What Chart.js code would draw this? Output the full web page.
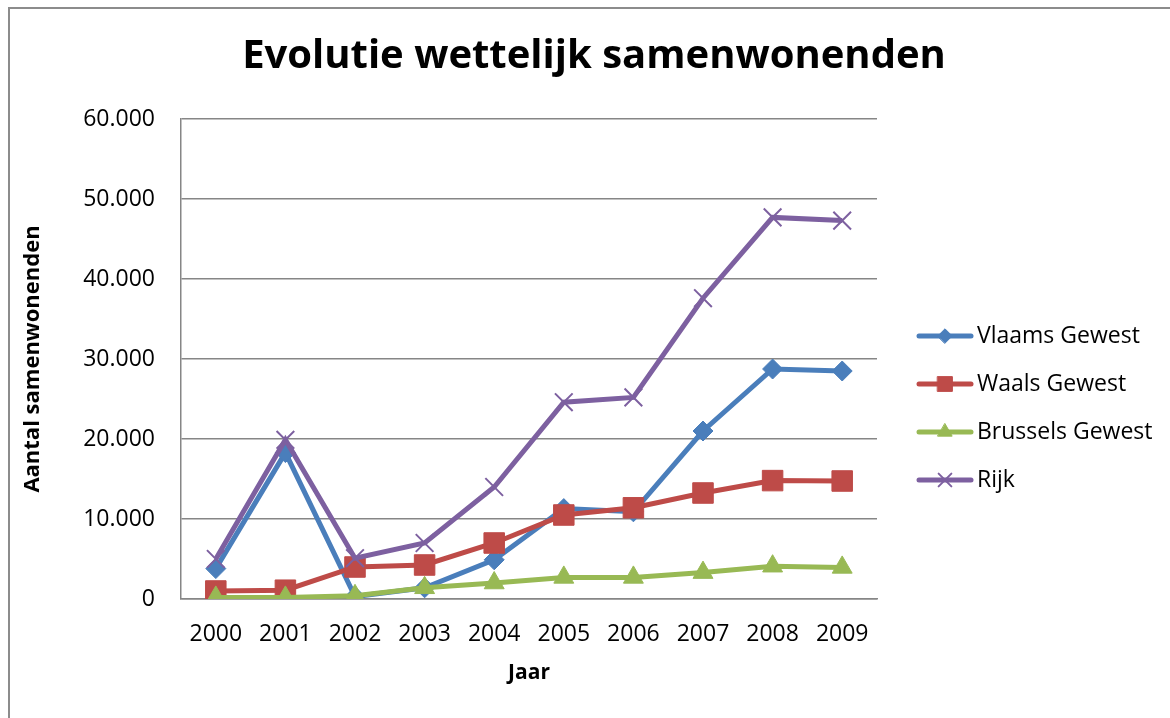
<!DOCTYPE html>
<html>
<head>
<meta charset="utf-8">
<script src="https://cdn.jsdelivr.net/npm/chart.js@4/dist/chart.umd.min.js"></script>
<style>
body{margin:0;background:#fff}
#wrap{position:relative;width:1170px;height:718px;overflow:hidden}
#frame{position:absolute;left:8px;top:7px;width:1200px;height:800px;border-top:2px solid #8c8c8c;border-left:2px solid #8c8c8c;pointer-events:none}
</style>
</head>
<body>
<div id="wrap">
<canvas id="chart" width="1170" height="718"></canvas>
<div id="frame"></div>
</div>
<script>
const years=["2000","2001","2002","2003","2004","2005","2006","2007","2008","2009"]
const vlaams=[3800,18300,300,1400,4900,11300,10900,21000,28750,28500]
const waals=[1000,1100,4000,4250,7000,10500,11400,13250,14800,14750]
const brussels=[200,200,400,1400,2000,2700,2700,3300,4100,3950]
const rijk=[5000,19900,5100,7000,14000,24600,25200,37600,47700,47300]

const font="'Open Sans', sans-serif"

function fmt(v){
return String(v).replace(/\B(?=(\d{3})+(?!\d))/g,".")
}

// legend drawn by hand: line + marker like the original
const lineLegend={
id:"lineLegend",
afterDraw(chart){
const ctx=chart.ctx
const a=chart.chartArea
let y=a.top+217
chart.data.datasets.forEach(ds=>{
ctx.save()
ctx.strokeStyle=ds.borderColor
ctx.lineWidth=5
ctx.lineCap="round"
ctx.beginPath()
ctx.moveTo(a.right+42,y)
ctx.lineTo(a.right+94,y)
ctx.stroke()
ctx.fillStyle=ds.borderColor
ctx.lineWidth=ds.pointStyle==="crossRot"?2:1
Chart.helpers.drawPoint(ctx,{pointStyle:ds.pointStyle,radius:ds.pointRadius*0.72,rotation:0,borderWidth:ctx.lineWidth},a.right+68,y)
ctx.fillStyle="#000"
ctx.font="23px "+font
ctx.textBaseline="middle"
ctx.fillText(ds.label,a.right+100,y)
ctx.restore()
y+=48
})
}
}

new Chart(document.getElementById("chart"),{
type:"line",
data:{
labels:years,
datasets:[
{label:"Vlaams Gewest",data:vlaams,borderColor:"#4a7ebb",backgroundColor:"#4a7ebb",pointStyle:"rectRot",pointRadius:10,order:4},
{label:"Waals Gewest",data:waals,borderColor:"#be4b48",backgroundColor:"#be4b48",pointStyle:"rect",pointRadius:14.5,order:3},
{label:"Brussels Gewest",data:brussels,borderColor:"#98b954",backgroundColor:"#98b954",pointStyle:"triangle",pointRadius:11.5,order:2},
{label:"Rijk",data:rijk,borderColor:"#7d60a0",backgroundColor:"#7d60a0",pointStyle:"crossRot",pointRadius:12.5,pointBorderWidth:2,order:1}
]
},
options:{
responsive:false,
animation:false,
layout:{padding:{left:18,right:0,top:0,bottom:0}},
elements:{line:{borderWidth:5,tension:0}},
plugins:{
legend:{display:false},
tooltip:{enabled:false},
title:{display:true,text:"Evolutie wettelijk samenwonenden",color:"#000",
font:{family:font,size:40,weight:"bold"},padding:{top:33,bottom:38}}
},
scales:{
x:{
offset:true,
grid:{display:false},
border:{display:true,color:"#868686",width:1.5},
ticks:{color:"#000",font:{family:font,size:23},padding:14},
title:{display:true,text:"Jaar",color:"#000",font:{family:font,size:21,weight:"bold"},padding:{top:0,bottom:32}},
afterFit(s){s.height=119}
},
y:{
min:0,max:60000,
grid:{color:"#868686",lineWidth:1.5,drawTicks:false},
border:{display:true,color:"#868686",width:1.5},
ticks:{stepSize:10000,color:"#000",font:{family:font,size:23},padding:26,callback:v=>fmt(v)},
title:{display:true,text:"Aantal samenwonenden",color:"#000",font:{family:font,size:22,weight:"bold"},padding:{top:2,bottom:0}},
afterFit(s){s.width=163}
},
// empty right axis only reserves the room for the legend
legendRoom:{
position:"right",
grid:{display:false},
border:{display:false},
ticks:{display:false},
afterFit(s){s.width=293}
}
}
},
plugins:[lineLegend]
})
</script>
</body>
</html>
